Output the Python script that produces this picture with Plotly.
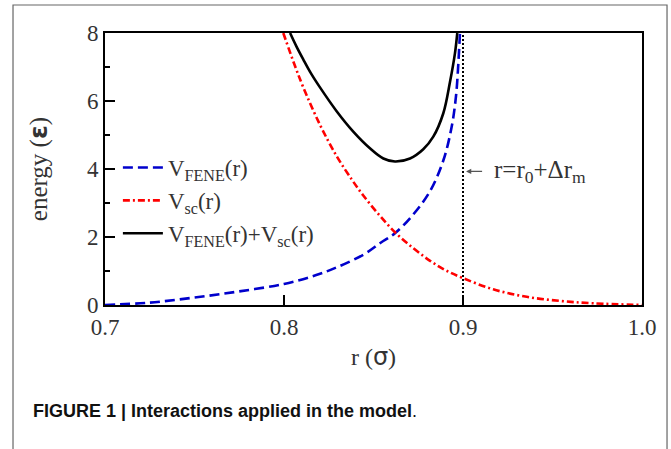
import plotly.graph_objects as go

# ---- data ----
r_fene = [0.700, 0.725, 0.750, 0.775, 0.800, 0.818, 0.830, 0.845, 0.854, 0.862,
          0.872, 0.8816, 0.889, 0.8937, 0.8961, 0.8974, 0.8983]
v_fene = [0.00, 0.07, 0.22, 0.40, 0.62, 0.88, 1.12, 1.50, 1.83, 2.11,
          2.65, 3.35, 4.25, 5.25, 6.15, 7.11, 8.00]

r_sc = [0.7996, 0.8060, 0.8108, 0.8201, 0.8294, 0.8380, 0.8443, 0.8530, 0.8620, 0.8720,
        0.8816, 0.8900, 0.9000, 0.9169, 0.9356, 0.9542, 0.9728, 1.0000]
v_sc = [8.00, 7.05, 6.40, 5.30, 4.38, 3.68, 3.22, 2.66, 2.14, 1.68,
        1.30, 1.03, 0.79, 0.46, 0.24, 0.12, 0.05, 0.00]

r_sum = [0.8034, 0.8070, 0.8108, 0.8150, 0.8201, 0.8294, 0.8387, 0.8480, 0.8555, 0.8620,
         0.8704, 0.8778, 0.8834, 0.8890, 0.8927, 0.8955, 0.8968]
v_sum = [8.00, 7.60, 7.22, 6.82, 6.40, 5.70, 5.10, 4.61, 4.31, 4.22,
         4.31, 4.58, 4.95, 5.64, 6.55, 7.40, 8.00]

r_cut = [0.9, 0.9]
v_cut = [0.0, 8.0]

x_ticks = [0.7, 0.8, 0.9, 1.0]
x_ticktext = ["0.7", "0.8", "0.9", "1.0"]
y_ticks = [0, 2, 4, 6, 8]

SERIF = "Liberation Serif, DejaVu Serif, serif"
TXT = "#333333"

fig = go.Figure()
fig.add_trace(go.Scatter(x=r_fene, y=v_fene, mode="lines", name="V<sub>FENE</sub>(r)",
                         line=dict(color="#0000cc", width=2.6, dash="10px,5px",
                                   shape="spline", smoothing=1.0)))
fig.add_trace(go.Scatter(x=r_sc, y=v_sc, mode="lines", name="V<sub>sc</sub>(r)",
                         line=dict(color="#ff0000", width=2.6, dash="7px,3px,2px,3px",
                                   shape="spline", smoothing=1.0)))
fig.add_trace(go.Scatter(x=r_sum, y=v_sum, mode="lines", name="V<sub>FENE</sub>(r)+V<sub>sc</sub>(r)",
                         line=dict(color="#000000", width=2.6, shape="spline", smoothing=1.0)))
fig.add_trace(go.Scatter(x=r_cut, y=v_cut, mode="lines", showlegend=False,
                         line=dict(color="#000000", width=2, dash="2px,2px")))

# arrow and label for the cutoff
fig.add_annotation(x=0.9017, y=3.93, ax=0.9115, ay=3.93, xref="x", yref="y", axref="x", ayref="y",
                   text="", showarrow=True, arrowhead=2, arrowsize=0.8, arrowwidth=1.3,
                   arrowcolor="#555555")
fig.add_annotation(x=0.9160, y=3.93, xref="x", yref="y", xanchor="left", yanchor="middle",
                   text="r=r<sub>0</sub>+Δr<sub>m</sub>", showarrow=False,
                   font=dict(family=SERIF, size=25, color=TXT))

# caption
fig.add_annotation(x=-0.1378, y=-0.39, xref="paper", yref="paper", xanchor="left", yanchor="middle",
                   text="<b>FIGURE 1 | Interactions applied in the model</b>.", showarrow=False,
                   font=dict(family="Liberation Sans Narrow, Arial Narrow, Liberation Sans, Arial", size=18,
                             color="#111111"))

# outer frame
fig.add_shape(type="rect", xref="paper", yref="paper", x0=-0.1713, x1=1.0466, y0=-0.6, y1=1.103,
              line=dict(color="#666666", width=1.2), layer="below")

fig.update_layout(
    width=671, height=449,
    margin=dict(l=105, r=29, t=33, b=144),
    paper_bgcolor="white", plot_bgcolor="white",
    font=dict(family=SERIF, size=22, color=TXT),
    showlegend=True,
    legend=dict(x=0.024, y=(305 - 146) / 272, xanchor="left", yanchor="top",
                bgcolor="rgba(0,0,0,0)", font=dict(family=SERIF, size=23, color=TXT),
                itemwidth=40, tracegroupgap=0),
    xaxis=dict(range=[0.7, 1.0], tickvals=x_ticks, ticktext=x_ticktext,
               ticks="inside", ticklen=10, tickwidth=1.5, tickcolor="black",
               showline=True, linecolor="black", linewidth=2, mirror=True,
               showgrid=False, zeroline=False,
               tickfont=dict(family=SERIF, size=23, color=TXT),
               title=dict(text="r (<span style='font-family:DejaVu Sans'>σ</span>)",
                          font=dict(family=SERIF, size=24, color=TXT), standoff=10)),
    yaxis=dict(range=[0, 8], tickvals=y_ticks,
               ticks="inside", ticklen=10, tickwidth=1.5, tickcolor="black",
               minor=dict(ticks="inside", ticklen=5, tickwidth=1.5, tickcolor="black", dtick=1, tick0=0),
               showline=True, linecolor="black", linewidth=2, mirror=True,
               showgrid=False, zeroline=False,
               tickfont=dict(family=SERIF, size=23, color=TXT),
               title=dict(text="energy (<span style='font-family:DejaVu Sans;font-weight:bold'>ε</span>)",
                          font=dict(family=SERIF, size=25, color=TXT), standoff=32)),
)

fig.write_html("out.html", config={"displayModeBar": False},
               post_script="document.body.style.margin='0';")
